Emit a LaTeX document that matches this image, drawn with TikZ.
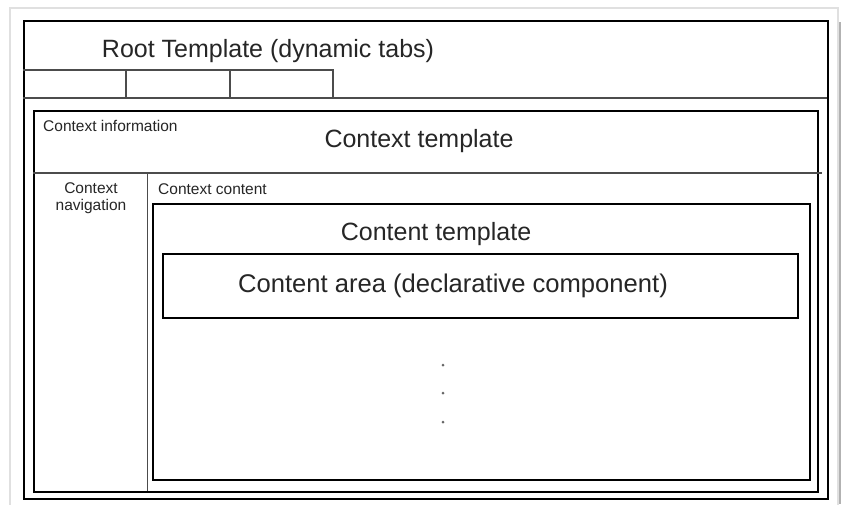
\documentclass[tikz,border=0pt]{standalone}
\usepackage{fontspec}
\setmainfont{Liberation Sans}
\begin{document}
\begin{tikzpicture}[x=1pt,y=-1pt,
  frame/.style={draw=black,line width=2pt},
  divider/.style={draw=black!70,line width=1.3pt},
  big/.style={font=\fontsize{25}{28}\selectfont, text=black!85},
  mid/.style={font=\fontsize{25}{28}\selectfont, text=black!85},
  small/.style={font=\fontsize{15.5}{16}\selectfont, inner sep=0pt, text=black!85},
  dotmark/.style={circle,fill=black!60,inner sep=0pt,minimum size=3pt}]
\useasboundingbox (0,0) rectangle (844,504);
\fill[white] (0,0) rectangle (844,504);
% card
\draw[draw=black!12,line width=1.5pt] (10,8) rectangle (838,510);
\draw[draw=black!30,line width=2pt] (840,22) -- (840,504);
% outer frame
\node[frame,minimum width=804pt,minimum height=478pt,inner sep=0pt,anchor=north west] (root) at (23,20) {};
\coordinate (rootL) at (23,98);
\coordinate (rootR) at (827,98);
\draw[divider] (rootL) -- (rootR);
\node[big,anchor=center] (roottxt) at (268,51) {Root Template (dynamic tabs)};
% tabs
\coordinate (t0) at (23,70);
\coordinate (t3) at (333,70);
\coordinate (t3b) at (333,98);
\coordinate (t1) at (126,70);
\coordinate (t1b) at (126,98);
\coordinate (t2) at (230,70);
\coordinate (t2b) at (230,98);
\draw[divider] (t0) -- (t3) -- (t3b);
\draw[divider] (t1) -- (t1b);
\draw[divider] (t2) -- (t2b);
% context template
\node[frame,minimum width=784pt,minimum height=381pt,inner sep=0pt,anchor=north west] (ctx) at (33,110) {};
\coordinate (cL) at (33,173);
\coordinate (cR) at (822,173);
\draw[divider] (cL) -- (cR);
\node[small,anchor=west] (cinfo) at (43,126) {Context information};
\node[mid] (ctxtxt) at (419,141) {Context template};
\coordinate (nT) at (147,173);
\coordinate (nB) at (147,491);
\draw[divider,line width=1pt] (nT) -- (nB);
\node[small,align=center] (cnav) at (91,198) {Context\\[1pt]navigation};
\node[small,anchor=west] (ccont) at (158,189) {Context content};
% content template
\node[frame,minimum width=657pt,minimum height=276pt,inner sep=0pt,anchor=north west] (cnt) at (152,203) {};
\node[mid] (cnttxt) at (436,234) {Content template};
\node[frame,minimum width=635pt,minimum height=64pt,inner sep=0pt,anchor=north west] (area) at (162,253) {};
\node[mid,font=\fontsize{25.6}{28}\selectfont] (areatxt) at (453,286) {Content area (declarative component)};
\node[dotmark] (d1) at (443,365) {};
\node[dotmark] (d2) at (443,393) {};
\node[dotmark] (d3) at (443,422) {};
\end{tikzpicture}
\end{document}
